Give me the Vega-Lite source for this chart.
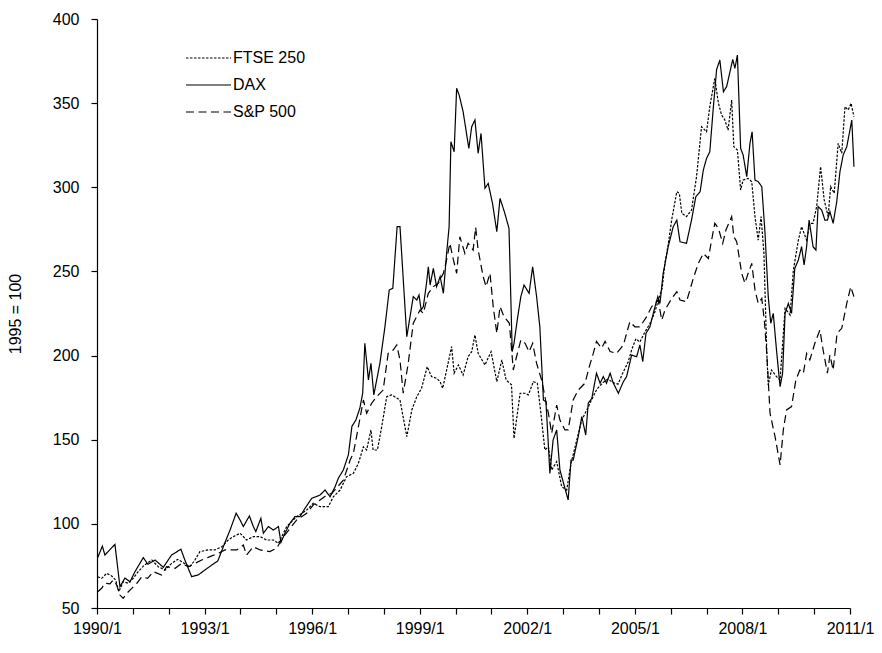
{
 "$schema": "https://vega.github.io/schema/vega-lite/v6.json",
 "width": 753,
 "height": 589,
 "autosize": {"type": "none"},
 "padding": {"left": 97, "top": 19, "right": 32, "bottom": 45},
 "background": "white",
 "config": {
  "view": {"stroke": null},
  "font": "Liberation Sans",
  "axis": {"grid": false, "domainColor": "black", "tickColor": "black", "labelColor": "black", "titleColor": "black", "labelFontSize": 16, "titleFontSize": 16, "titleFontWeight": "normal", "domainWidth": 1.2, "tickWidth": 1.2}
 },
 "datasets": {
  "DAX": [
   {"t":1990.02,"v":80},{"t":1990.15,"v":86.8},{"t":1990.22,"v":81.5},{"t":1990.50,"v":87.8},{"t":1990.64,"v":62.7},{"t":1990.78,"v":67.8},{"t":1990.92,"v":65.6},{"t":1991.06,"v":71.6},{"t":1991.29,"v":79.9},{"t":1991.42,"v":76},{"t":1991.62,"v":78.5},{"t":1991.85,"v":74.2},{"t":1992.08,"v":81.5},{"t":1992.34,"v":84.9},{"t":1992.45,"v":78.5},{"t":1992.64,"v":68.6},{"t":1992.82,"v":69.6},{"t":1993.01,"v":72.6},{"t":1993.20,"v":75.5},{"t":1993.37,"v":78},{"t":1993.57,"v":89},{"t":1993.71,"v":96.3},{"t":1993.88,"v":106.3},{"t":1993.99,"v":102.3},{"t":1994.08,"v":98.4},{"t":1994.25,"v":104.7},{"t":1994.36,"v":98.4},{"t":1994.43,"v":95.4},{"t":1994.57,"v":103.3},{"t":1994.64,"v":94.4},{"t":1994.78,"v":98.4},{"t":1994.92,"v":96.3},{"t":1995.06,"v":98.4},{"t":1995.13,"v":89},{"t":1995.24,"v":94.4},{"t":1995.38,"v":100.3},{"t":1995.52,"v":104.3},{"t":1995.66,"v":104.3},{"t":1995.80,"v":109.2},{"t":1995.99,"v":115.2},{"t":1996.22,"v":117.1},{"t":1996.36,"v":120.1},{"t":1996.50,"v":116.1},{"t":1996.64,"v":122.1},{"t":1996.73,"v":127.1},{"t":1996.87,"v":132},{"t":1997.01,"v":141},{"t":1997.11,"v":158},{"t":1997.22,"v":161.7},{"t":1997.33,"v":168.7},{"t":1997.41,"v":177.6},{"t":1997.47,"v":207.3},{"t":1997.57,"v":185.5},{"t":1997.64,"v":195.4},{"t":1997.72,"v":176.6},{"t":1997.89,"v":195.4},{"t":1998.03,"v":217.1},{"t":1998.15,"v":239},{"t":1998.25,"v":240},{"t":1998.37,"v":276.6},{"t":1998.45,"v":276.6},{"t":1998.64,"v":211.2},{"t":1998.82,"v":235},{"t":1998.92,"v":233},{"t":1998.98,"v":236},{"t":1999.04,"v":227.1},{"t":1999.10,"v":229},{"t":1999.19,"v":243},{"t":1999.24,"v":252.8},{"t":1999.29,"v":241.9},{"t":1999.38,"v":251.8},{"t":1999.47,"v":240.9},{"t":1999.57,"v":246.9},{"t":1999.66,"v":237},{"t":1999.75,"v":260.7},{"t":1999.82,"v":276.6},{"t":1999.87,"v":327.1},{"t":1999.96,"v":321.1},{"t":2000.03,"v":358.8},{"t":2000.10,"v":354.8},{"t":2000.21,"v":345},{"t":2000.37,"v":323.1},{"t":2000.45,"v":336},{"t":2000.54,"v":340},{"t":2000.63,"v":320.2},{"t":2000.71,"v":332},{"t":2000.82,"v":299.4},{"t":2000.91,"v":302.3},{"t":2001.03,"v":290.5},{"t":2001.15,"v":273.6},{"t":2001.24,"v":293.4},{"t":2001.36,"v":285.5},{"t":2001.49,"v":275.6},{"t":2001.58,"v":202.3},{"t":2001.63,"v":207.3},{"t":2001.72,"v":221.1},{"t":2001.82,"v":235},{"t":2001.91,"v":241.9},{"t":2002.05,"v":237},{"t":2002.15,"v":252.8},{"t":2002.26,"v":235},{"t":2002.35,"v":217.1},{"t":2002.45,"v":173.6},{"t":2002.52,"v":172.6},{"t":2002.57,"v":153.8},{"t":2002.63,"v":130},{"t":2002.72,"v":149.8},{"t":2002.82,"v":155.8},{"t":2002.91,"v":132},{"t":2003.14,"v":114.2},{"t":2003.22,"v":137.9},{"t":2003.28,"v":137.9},{"t":2003.42,"v":151.8},{"t":2003.52,"v":163.7},{"t":2003.63,"v":152.8},{"t":2003.70,"v":171.7},{"t":2003.80,"v":174.6},{"t":2003.93,"v":189.5},{"t":2004.03,"v":183.6},{"t":2004.12,"v":187.5},{"t":2004.21,"v":183.6},{"t":2004.31,"v":189.5},{"t":2004.40,"v":183.6},{"t":2004.54,"v":177.6},{"t":2004.68,"v":184.5},{"t":2004.77,"v":187.5},{"t":2004.91,"v":200.3},{"t":2005.05,"v":199.3},{"t":2005.14,"v":206.3},{"t":2005.22,"v":196.4},{"t":2005.31,"v":213.2},{"t":2005.42,"v":217.1},{"t":2005.56,"v":228.9},{"t":2005.64,"v":235},{"t":2005.70,"v":231},{"t":2005.79,"v":248.9},{"t":2005.93,"v":264.7},{"t":2006.07,"v":276.6},{"t":2006.17,"v":280.5},{"t":2006.26,"v":267.6},{"t":2006.44,"v":266.7},{"t":2006.58,"v":280.5},{"t":2006.70,"v":294.4},{"t":2006.82,"v":297.4},{"t":2006.91,"v":310.3},{"t":2007.00,"v":317.2},{"t":2007.09,"v":321.1},{"t":2007.19,"v":347.9},{"t":2007.28,"v":370},{"t":2007.37,"v":375.6},{"t":2007.47,"v":356.8},{"t":2007.56,"v":359.8},{"t":2007.73,"v":376},{"t":2007.79,"v":370.7},{"t":2007.86,"v":378.6},{"t":2007.95,"v":323.1},{"t":2008.02,"v":319.2},{"t":2008.12,"v":306.3},{"t":2008.21,"v":326.1},{"t":2008.27,"v":333},{"t":2008.35,"v":304.3},{"t":2008.44,"v":303.3},{"t":2008.54,"v":300.4},{"t":2008.63,"v":272.7},{"t":2008.72,"v":235},{"t":2008.79,"v":219.2},{"t":2008.86,"v":225.1},{"t":2008.95,"v":203.3},{"t":2009.05,"v":181.5},{"t":2009.12,"v":189.5},{"t":2009.19,"v":225.1},{"t":2009.28,"v":231},{"t":2009.37,"v":225.1},{"t":2009.46,"v":251.8},{"t":2009.56,"v":256.8},{"t":2009.65,"v":264.7},{"t":2009.72,"v":253.8},{"t":2009.79,"v":264.7},{"t":2009.86,"v":280.5},{"t":2009.97,"v":264.7},{"t":2010.05,"v":262.7},{"t":2010.11,"v":288.5},{"t":2010.21,"v":286.5},{"t":2010.30,"v":280.5},{"t":2010.37,"v":280.5},{"t":2010.44,"v":285.5},{"t":2010.53,"v":278.6},{"t":2010.63,"v":291.4},{"t":2010.72,"v":309.3},{"t":2010.81,"v":319.2},{"t":2010.91,"v":324.1},{"t":2011.05,"v":339.9},{"t":2011.11,"v":312.2}
  ],
  "FTSE": [
   {"t":1990.02,"v":68.6},{"t":1990.13,"v":67.6},{"t":1990.27,"v":70.6},{"t":1990.41,"v":69},{"t":1990.52,"v":66.6},{"t":1990.61,"v":59.7},{"t":1990.73,"v":65.6},{"t":1990.87,"v":64.7},{"t":1991.01,"v":67.6},{"t":1991.15,"v":71.6},{"t":1991.32,"v":75.5},{"t":1991.53,"v":78.5},{"t":1991.71,"v":74.5},{"t":1991.90,"v":72.6},{"t":1992.08,"v":76.5},{"t":1992.25,"v":78.9},{"t":1992.41,"v":76.9},{"t":1992.59,"v":74.5},{"t":1992.73,"v":78.5},{"t":1992.87,"v":83.5},{"t":1993.10,"v":84.5},{"t":1993.29,"v":84.5},{"t":1993.48,"v":86.4},{"t":1993.66,"v":90.4},{"t":1993.80,"v":92.4},{"t":1993.99,"v":94.4},{"t":1994.17,"v":90.4},{"t":1994.36,"v":92.4},{"t":1994.55,"v":92.4},{"t":1994.73,"v":90.4},{"t":1994.92,"v":90.4},{"t":1995.06,"v":88.4},{"t":1995.29,"v":98.4},{"t":1995.57,"v":104.3},{"t":1995.85,"v":108.2},{"t":1996.03,"v":112.2},{"t":1996.22,"v":110.2},{"t":1996.45,"v":110.2},{"t":1996.59,"v":116.1},{"t":1996.78,"v":120.1},{"t":1996.96,"v":128},{"t":1997.15,"v":130},{"t":1997.29,"v":136},{"t":1997.43,"v":145.8},{"t":1997.52,"v":143.9},{"t":1997.64,"v":155.8},{"t":1997.70,"v":143.9},{"t":1997.82,"v":143.9},{"t":1997.94,"v":157.7},{"t":1998.08,"v":175.6},{"t":1998.22,"v":176.6},{"t":1998.45,"v":173.6},{"t":1998.64,"v":151.8},{"t":1998.78,"v":167.7},{"t":1998.92,"v":175.6},{"t":1999.05,"v":180.5},{"t":1999.21,"v":193.4},{"t":1999.33,"v":187.5},{"t":1999.47,"v":186.5},{"t":1999.57,"v":184.5},{"t":1999.64,"v":180.5},{"t":1999.75,"v":191.4},{"t":1999.89,"v":205.3},{"t":1999.96,"v":189.5},{"t":2000.08,"v":194.4},{"t":2000.21,"v":188.4},{"t":2000.35,"v":199.3},{"t":2000.45,"v":202.3},{"t":2000.54,"v":212.2},{"t":2000.63,"v":201.3},{"t":2000.82,"v":194.4},{"t":2000.99,"v":202.3},{"t":2001.15,"v":184.5},{"t":2001.29,"v":197.4},{"t":2001.41,"v":185.5},{"t":2001.56,"v":182.6},{"t":2001.63,"v":150.8},{"t":2001.80,"v":177.6},{"t":2001.94,"v":177.6},{"t":2002.03,"v":176.6},{"t":2002.17,"v":184.5},{"t":2002.28,"v":183.6},{"t":2002.38,"v":165.7},{"t":2002.49,"v":143.9},{"t":2002.59,"v":145.8},{"t":2002.68,"v":132},{"t":2002.82,"v":137},{"t":2002.96,"v":122.1},{"t":2003.10,"v":120.1},{"t":2003.22,"v":136},{"t":2003.38,"v":149.8},{"t":2003.52,"v":161.7},{"t":2003.66,"v":167.7},{"t":2003.80,"v":174},{"t":2003.94,"v":180},{"t":2004.11,"v":184},{"t":2004.25,"v":186},{"t":2004.39,"v":184},{"t":2004.53,"v":183},{"t":2004.67,"v":190},{"t":2004.81,"v":196},{"t":2004.92,"v":204},{"t":2005.03,"v":210},{"t":2005.14,"v":208},{"t":2005.28,"v":214},{"t":2005.42,"v":219},{"t":2005.56,"v":226},{"t":2005.64,"v":232},{"t":2005.76,"v":240},{"t":2005.84,"v":255},{"t":2005.93,"v":266},{"t":2006.03,"v":281},{"t":2006.17,"v":297.4},{"t":2006.24,"v":296.4},{"t":2006.31,"v":284.5},{"t":2006.44,"v":282.6},{"t":2006.58,"v":286.5},{"t":2006.72,"v":306.3},{"t":2006.86,"v":336},{"t":2007.00,"v":333},{"t":2007.09,"v":348},{"t":2007.23,"v":364.8},{"t":2007.33,"v":350},{"t":2007.42,"v":342.9},{"t":2007.51,"v":340},{"t":2007.60,"v":334},{"t":2007.70,"v":351.8},{"t":2007.76,"v":324.1},{"t":2007.86,"v":322.1},{"t":2007.95,"v":298.4},{"t":2008.02,"v":304.3},{"t":2008.16,"v":305.3},{"t":2008.26,"v":303.3},{"t":2008.35,"v":282.6},{"t":2008.44,"v":268.6},{"t":2008.52,"v":282.6},{"t":2008.60,"v":260.7},{"t":2008.68,"v":201.3},{"t":2008.72,"v":182.5},{"t":2008.81,"v":191.4},{"t":2008.95,"v":187.5},{"t":2009.05,"v":185.5},{"t":2009.19,"v":228},{"t":2009.33,"v":224.1},{"t":2009.42,"v":250.8},{"t":2009.56,"v":268.6},{"t":2009.65,"v":276.6},{"t":2009.79,"v":268.6},{"t":2009.88,"v":278.6},{"t":2009.97,"v":278.6},{"t":2010.07,"v":288.5},{"t":2010.18,"v":312.3},{"t":2010.28,"v":292.5},{"t":2010.39,"v":282.6},{"t":2010.46,"v":300.4},{"t":2010.56,"v":296.4},{"t":2010.67,"v":326.1},{"t":2010.77,"v":320.2},{"t":2010.86,"v":347.9},{"t":2010.95,"v":345.9},{"t":2011.03,"v":349.9},{"t":2011.11,"v":342}
  ],
  "SP": [
   {"t":1990.02,"v":59.7},{"t":1990.13,"v":61.7},{"t":1990.22,"v":64.7},{"t":1990.36,"v":64.3},{"t":1990.45,"v":66.6},{"t":1990.55,"v":63.7},{"t":1990.64,"v":57.7},{"t":1990.73,"v":55.7},{"t":1990.83,"v":58.7},{"t":1990.97,"v":61.7},{"t":1991.11,"v":64.7},{"t":1991.25,"v":68.6},{"t":1991.41,"v":67.6},{"t":1991.57,"v":71.6},{"t":1991.80,"v":69.6},{"t":1991.94,"v":74.5},{"t":1992.18,"v":73.6},{"t":1992.36,"v":76.5},{"t":1992.55,"v":74.5},{"t":1992.73,"v":76.5},{"t":1992.92,"v":78.5},{"t":1993.15,"v":80.5},{"t":1993.38,"v":82.5},{"t":1993.57,"v":84.5},{"t":1993.71,"v":84.5},{"t":1993.90,"v":84.5},{"t":1994.08,"v":87.4},{"t":1994.17,"v":81.5},{"t":1994.36,"v":86.4},{"t":1994.55,"v":84.5},{"t":1994.82,"v":83.5},{"t":1995.01,"v":85.5},{"t":1995.20,"v":92.4},{"t":1995.57,"v":102.3},{"t":1995.85,"v":106.3},{"t":1996.03,"v":111.2},{"t":1996.22,"v":114.2},{"t":1996.41,"v":117.1},{"t":1996.55,"v":118.1},{"t":1996.87,"v":126},{"t":1997.06,"v":137.9},{"t":1997.15,"v":141.9},{"t":1997.29,"v":157.7},{"t":1997.43,"v":173.6},{"t":1997.52,"v":165.7},{"t":1997.66,"v":171.7},{"t":1997.80,"v":175.6},{"t":1997.98,"v":179.5},{"t":1998.12,"v":201.3},{"t":1998.26,"v":203.3},{"t":1998.36,"v":206.3},{"t":1998.45,"v":197.4},{"t":1998.54,"v":177.6},{"t":1998.68,"v":195.4},{"t":1998.82,"v":219.2},{"t":1999.01,"v":227.1},{"t":1999.10,"v":225.1},{"t":1999.24,"v":237},{"t":1999.38,"v":241},{"t":1999.52,"v":243},{"t":1999.66,"v":248.9},{"t":1999.75,"v":256.8},{"t":1999.84,"v":266.7},{"t":1999.94,"v":256.8},{"t":2000.03,"v":248.9},{"t":2000.12,"v":270.6},{"t":2000.26,"v":260.7},{"t":2000.35,"v":266.7},{"t":2000.49,"v":262.7},{"t":2000.56,"v":276.2},{"t":2000.63,"v":262.7},{"t":2000.77,"v":246.9},{"t":2000.85,"v":241},{"t":2000.96,"v":248.9},{"t":2001.05,"v":229.1},{"t":2001.15,"v":213.2},{"t":2001.24,"v":229.1},{"t":2001.35,"v":223.1},{"t":2001.50,"v":219.2},{"t":2001.61,"v":191.4},{"t":2001.70,"v":199.3},{"t":2001.82,"v":209.2},{"t":2001.94,"v":207.3},{"t":2002.05,"v":202.3},{"t":2002.15,"v":207.3},{"t":2002.26,"v":195.4},{"t":2002.40,"v":185.5},{"t":2002.51,"v":173.6},{"t":2002.59,"v":165.7},{"t":2002.68,"v":153.8},{"t":2002.82,"v":170.6},{"t":2002.91,"v":161.7},{"t":2003.05,"v":155.8},{"t":2003.14,"v":155.8},{"t":2003.28,"v":173.6},{"t":2003.42,"v":179.5},{"t":2003.61,"v":183.6},{"t":2003.73,"v":193.4},{"t":2003.84,"v":201.3},{"t":2003.93,"v":208.4},{"t":2004.07,"v":204.4},{"t":2004.17,"v":208.4},{"t":2004.31,"v":202.4},{"t":2004.49,"v":201.3},{"t":2004.68,"v":206.3},{"t":2004.86,"v":220.1},{"t":2005.00,"v":217.1},{"t":2005.14,"v":217.1},{"t":2005.33,"v":223.1},{"t":2005.47,"v":229.1},{"t":2005.65,"v":233},{"t":2005.75,"v":221.1},{"t":2005.84,"v":227.1},{"t":2006.03,"v":234},{"t":2006.17,"v":238},{"t":2006.26,"v":233},{"t":2006.44,"v":232},{"t":2006.63,"v":245.9},{"t":2006.77,"v":254.8},{"t":2006.91,"v":260.7},{"t":2007.05,"v":257.7},{"t":2007.14,"v":268.6},{"t":2007.23,"v":278.6},{"t":2007.33,"v":275.6},{"t":2007.45,"v":266.7},{"t":2007.54,"v":274.6},{"t":2007.70,"v":282.6},{"t":2007.76,"v":270.7},{"t":2007.84,"v":267.7},{"t":2007.98,"v":248.9},{"t":2008.07,"v":243},{"t":2008.16,"v":248.9},{"t":2008.26,"v":254.8},{"t":2008.35,"v":239},{"t":2008.44,"v":231},{"t":2008.54,"v":234},{"t":2008.61,"v":221.1},{"t":2008.68,"v":201.3},{"t":2008.77,"v":165.7},{"t":2008.91,"v":151.8},{"t":2009.05,"v":135},{"t":2009.14,"v":155.8},{"t":2009.23,"v":167.7},{"t":2009.37,"v":169.7},{"t":2009.49,"v":185.5},{"t":2009.60,"v":191.4},{"t":2009.70,"v":189.5},{"t":2009.79,"v":201.3},{"t":2009.88,"v":197.4},{"t":2010.02,"v":207.3},{"t":2010.16,"v":215.2},{"t":2010.25,"v":203.3},{"t":2010.37,"v":189.5},{"t":2010.44,"v":200.3},{"t":2010.53,"v":191.4},{"t":2010.64,"v":213.2},{"t":2010.77,"v":216.2},{"t":2010.91,"v":231},{"t":2011.02,"v":240.9},{"t":2011.11,"v":235}
  ]
 },
 "encoding": {
  "x": {"field": "t", "type": "quantitative",
   "scale": {"domain": [1990, 2011], "nice": false, "zero": false},
   "axis": {"title": null, "values": [1990,1991,1992,1993,1994,1995,1996,1997,1998,1999,2000,2001,2002,2003,2004,2005,2006,2007,2008,2009,2010,2011],
    "labelExpr": "(datum.value - 1990) % 3 == 0 ? datum.value + '/1' : ''",
    "tickSize": 6, "labelPadding": 6, "labelFlush": false, "labelOverlap": false, "labelBound": false}},
  "y": {"field": "v", "type": "quantitative",
   "scale": {"domain": [50, 400], "nice": false, "zero": false},
   "axis": {"title": "1995 = 100", "values": [50,100,150,200,250,300,350,400], "tickSize": 6, "labelPadding": 12, "titlePadding": 29}},
  "strokeDash": {"field": "s", "type": "nominal",
   "scale": {"domain": ["FTSE 250", "DAX", "S&P 500"], "range": [[2.5,1.5],[1,0],[8,4.5]]},
   "legend": {"title": null, "orient": "none", "legendX": 86, "legendY": 31, "symbolType": "M-1,0H8", "symbolSize": 100, "symbolStrokeWidth": 1.2, "symbolStrokeColor": "black", "labelFontSize": 16, "labelColor": "black", "labelOffset": 34, "rowPadding": 11, "padding": 0}}
 },
 "layer": [
  {"data": {"name": "FTSE"}, "transform": [{"calculate": "'FTSE 250'", "as": "s"}], "mark": {"type": "line", "color": "black", "strokeWidth": 1.2}},
  {"data": {"name": "DAX"}, "transform": [{"calculate": "'DAX'", "as": "s"}], "mark": {"type": "line", "color": "black", "strokeWidth": 1.2}},
  {"data": {"name": "SP"}, "transform": [{"calculate": "'S&P 500'", "as": "s"}], "mark": {"type": "line", "color": "black", "strokeWidth": 1.2}}
 ]
}
